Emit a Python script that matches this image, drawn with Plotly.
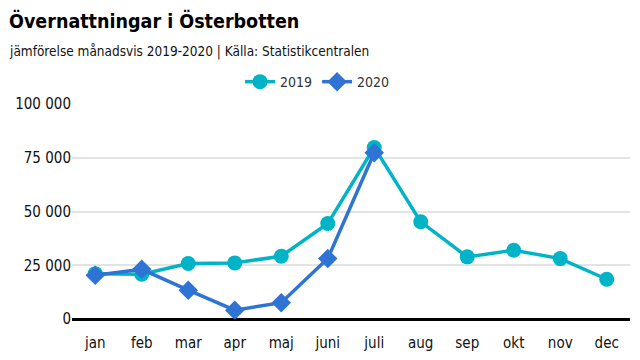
import plotly.graph_objects as go

months = ["jan", "feb", "mar", "apr", "maj", "juni", "juli", "aug", "sep", "okt", "nov", "dec"]
v2019 = [21100, 20800, 25800, 26100, 29200, 44400, 79800, 45200, 28900, 32000, 28100, 18500]
months2020 = ["jan", "feb", "mar", "apr", "maj", "juni", "juli"]
v2020 = [20400, 23100, 13400, 4100, 7600, 28100, 77300]
yticks = [0, 25000, 50000, 75000, 100000]

FONT = "DejaVu Sans Condensed"
C19 = "#00b3c6"
C20 = "#2f73d4"

fig = go.Figure()
fig.add_trace(go.Scatter(x=months, y=v2019, name="2019", mode="lines+markers",
                         line=dict(color=C19, width=3.5),
                         marker=dict(symbol="circle", size=15, color=C19)))
fig.add_trace(go.Scatter(x=months2020, y=v2020, name="2020", mode="lines+markers",
                         line=dict(color=C20, width=3.5),
                         marker=dict(symbol="diamond", size=15, color=C20)))

fig.update_layout(
    width=632, height=352,
    margin=dict(l=64, r=10, t=96, b=41),
    plot_bgcolor="white", paper_bgcolor="white",
    separators=", ",
    font=dict(family=FONT, size=14, color="#111"),
    annotations=[
        dict(text="<b>Övernattningar i Österbotten</b>",
             xref="paper", yref="paper", x=-0.1147, y=1.385, xanchor="left",
             yanchor="middle", showarrow=False, borderpad=0,
             font=dict(size=19.5, color="#000", family=FONT)),
        dict(text="jämförelse månadsvis 2019-2020 | Källa: Statistikcentralen",
             xref="paper", yref="paper", x=-0.1147, y=1.245, xanchor="left",
             yanchor="middle", showarrow=False, borderpad=0,
             font=dict(size=13.5, color="#111", family=FONT)),
    ],
    legend=dict(orientation="h", x=0.44, xanchor="center", y=1.102, yanchor="middle",
                font=dict(size=14, color="#333"), itemwidth=30),
    showlegend=True,
)
fig.update_xaxes(categoryorder="array", categoryarray=months, showgrid=False,
                 showline=False, ticks="", tickfont=dict(size=15, color="#111"),
                 range=[-0.5, 11.5], ticklabelstandoff=13, automargin=False)
fig.update_yaxes(range=[0, 100000], tickvals=yticks, tickformat=",d", showgrid=True,
                 gridcolor="#e3e3e3", gridwidth=1.5, zeroline=True, zerolinecolor="#000",
                 zerolinewidth=2.5, ticks="", tickfont=dict(size=15, color="#111"),
                 ticksuffix=" ", showline=False, automargin=False)

fig.write_html("out.html")
